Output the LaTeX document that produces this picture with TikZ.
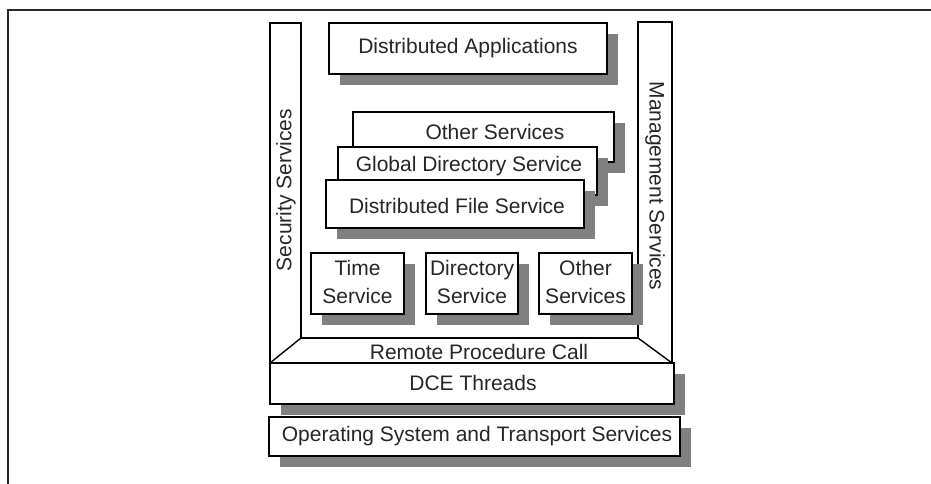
\documentclass[tikz,border=0pt]{standalone}
\usepackage{fontspec}
\setmainfont{Liberation Sans}
\usetikzlibrary{shadows}
\definecolor{shd}{HTML}{808080}
\definecolor{ink}{HTML}{262626}
\begin{document}
\begin{tikzpicture}[x=1pt,y=-1pt,
  lbl/.style={font=\fontsize{21}{28}\selectfont, text=ink, inner sep=0pt, align=center},
  box/.style={draw=black, line width=1.4pt, fill=white, inner sep=0pt,
    drop shadow={shadow xshift=11pt, shadow yshift=-11pt, fill=shd, opacity=1}},
  frameline/.style={draw=black, line width=1.4pt},
]
\useasboundingbox (0,0) rectangle (931,484);
% outer frame
\draw[draw=ink, line width=2pt] (8,484) -- (8,10) -- (931,10);

% U-shaped security / management / RPC outline
\coordinate (sl) at (270,363);
\coordinate (sr) at (672,363);
\draw[frameline] (sl) -- (270,23) -- (301,23) -- (301,338) -- (638,338)
  -- (638,22) -- (672,22) -- (sr);
\draw[frameline] (301,338) -- (sl);
\draw[frameline] (638,338) -- (sr);
\node[lbl, rotate=90] (sec) at (286,190) {Security Services};
\node[lbl, rotate=-90] (mgmt) at (655,186) {Management Services};
\node[lbl] (rpc) at (479,352) {Remote Procedure Call};

% distributed applications
\node[box, minimum width=278pt, minimum height=51pt] (apps) at (468,48.5) {};
\node[lbl] (appsT) at (468,48) {Distributed Applications};

% stacked services
\node[box, minimum width=261pt, minimum height=50pt] (oth1) at (483.5,137) {};
\node[lbl] (oth1T) at (495,132) {Other Services};
\node[box, minimum width=259pt, minimum height=48pt] (gds) at (467.5,171) {};
\node[lbl] (gdsT) at (469,166) {Global Directory Service};
\node[box, minimum width=258pt, minimum height=48pt] (dfs) at (455,204) {};
\node[lbl] (dfsT) at (457,206) {Distributed File Service};

% small services
\node[box, minimum width=93pt, minimum height=61pt] (time) at (357.5,283.5) {};
\node[lbl] (timeT) at (357.5,282) {Time\\Service};
\node[box, minimum width=92pt, minimum height=61pt] (dir) at (472,283.5) {};
\node[lbl] (dirT) at (472,282) {Directory\\Service};
\node[box, minimum width=93pt, minimum height=61pt] (oth2) at (585.5,283.5) {};
\node[lbl] (oth2T) at (585.5,282) {Other\\Services};

% threads and OS
\node[box, minimum width=404pt, minimum height=41pt] (dce) at (472,383.5) {};
\node[lbl] (dceT) at (473,383) {DCE Threads};
\node[box, minimum width=411pt, minimum height=39pt] (os) at (474.5,436.5) {};
\node[lbl] (osT) at (477,436) {Operating System and Transport Services};
\end{tikzpicture}
\end{document}
